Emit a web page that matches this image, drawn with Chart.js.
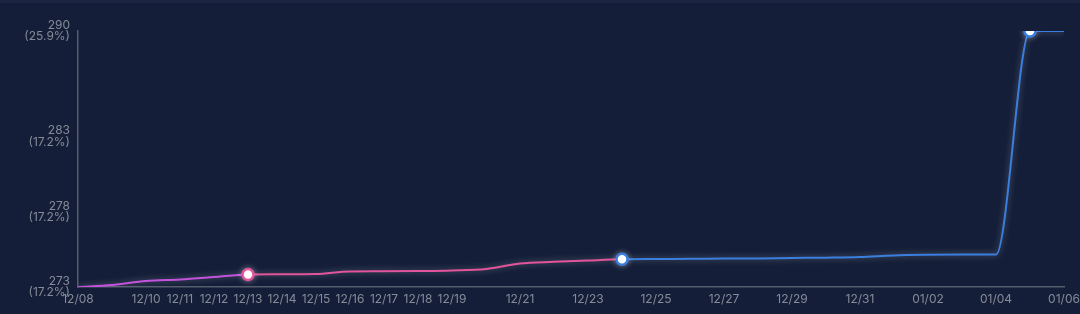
<!DOCTYPE html>
<html>
<head>
<meta charset="utf-8">
<script src="https://cdn.jsdelivr.net/npm/chart.js@4"></script>
<style>
  html, body { margin: 0; padding: 0; background: #141e38; }
  body { border-top: 3px solid #1b2642; box-sizing: border-box; }
  #wrap { width: 1080px; height: 311px; }
</style>
</head>
<body>
<div id="wrap"><canvas id="priceChart"></canvas></div>
<script>
// days from 12/08 to 01/06
var dayLabels = ['12/08','12/09','12/10','12/11','12/12','12/13','12/14','12/15','12/16','12/17',
  '12/18','12/19','12/20','12/21','12/22','12/23','12/24','12/25','12/26','12/27',
  '12/28','12/29','12/30','12/31','01/01','01/02','01/03','01/04','01/05','01/06'];

var values = [273.0, 273.13, 273.4, 273.5, 273.66, 273.83, 273.84, 273.86, 274.03, 274.04,
  274.06, 274.1, 274.2, 274.56, 274.67, 274.76, 274.84, 274.86, 274.87, 274.89,
  274.9, 274.93, 274.95, 274.99, 275.1, 275.14, 275.15, 275.16, 290.0, 290.0];

// which days get marked, and where the colour changes
var markedDays = [5, 16, 28];
var shownTicks = [0, 2, 3, 4, 5, 6, 7, 8, 9, 10, 11, 13, 15, 17, 19, 21, 23, 25, 27, 29];

var yTicks = [273, 278, 283, 290];
var yTickPct = ['(17.2%)', '(17.2%)', '(17.2%)', '(25.9%)'];

var purple = '#c452dc';
var pink = '#e2559c';
var blue = '#3a7fe0';

function colorAt(i) {
    if (i < 5) return purple;
    if (i < 16) return pink;
    return blue;
}

document.addEventListener('DOMContentLoaded', function() {
    var ctx = document.getElementById('priceChart').getContext('2d');
    var points = values.map(function(v, i) { return { x: i, y: v }; });

    var glow = {
        id: 'glow',
        beforeDatasetDraw: function(chart) {
            chart.ctx.save();
            chart.ctx.shadowColor = 'rgba(255,255,255,0.35)';
            chart.ctx.shadowBlur = 6;
        },
        afterDatasetDraw: function(chart) {
            chart.ctx.restore();
        }
    };

    new Chart(ctx, {
        type: 'line',
        data: {
            datasets: [{
                data: points,
                borderWidth: 2,
                borderColor: blue,
                cubicInterpolationMode: 'monotone',
                segment: {
                    borderColor: function(c) { return colorAt(c.p0DataIndex); }
                },
                pointRadius: function(c) { return markedDays.indexOf(c.dataIndex) >= 0 ? 5.5 : 0; },
                pointBackgroundColor: '#ffffff',
                pointBorderColor: function(c) { return c.dataIndex === 5 ? pink : blue; },
                pointBorderWidth: 2.5,
                pointHoverRadius: 0
            }]
        },
        plugins: [glow],
        options: {
            responsive: true,
            maintainAspectRatio: false,
            animation: false,
            layout: { padding: { top: 28, right: 16, left: 0, bottom: 0 } },
            plugins: { legend: { display: false }, tooltip: { enabled: false } },
            scales: {
                x: {
                    type: 'linear',
                    min: 0,
                    max: 29,
                    afterBuildTicks: function(scale) {
                        scale.ticks = shownTicks.map(function(d) { return { value: d }; });
                    },
                    afterFit: function(scale) { scale.height = 27; },
                    grid: { display: false, drawTicks: true, tickLength: 5, tickColor: '#555c6b' },
                    border: { color: '#555c6b', width: 1.5 },
                    ticks: {
                        autoSkip: false,
                        maxRotation: 0,
                        color: '#868b98',
                        padding: 0,
                        font: { family: 'Inter', size: 12 },
                        callback: function(v) { return dayLabels[v]; }
                    }
                },
                y: {
                    min: 273,
                    max: 290,
                    afterBuildTicks: function(scale) {
                        scale.ticks = yTicks.map(function(v) { return { value: v }; });
                    },
                    afterFit: function(scale) { scale.width = 78; },
                    grid: { display: false, drawTicks: true, tickLength: 5, tickColor: '#555c6b' },
                    border: { color: '#555c6b', width: 1.5 },
                    ticks: {
                        color: '#868b98',
                        padding: 3,
                        font: { family: 'Inter', size: 12, lineHeight: 0.95 },
                        callback: function(v) {
                            var i = yTicks.indexOf(v);
                            return [String(v), yTickPct[i]];
                        }
                    }
                }
            }
        }
    });
});
</script>
</body>
</html>
